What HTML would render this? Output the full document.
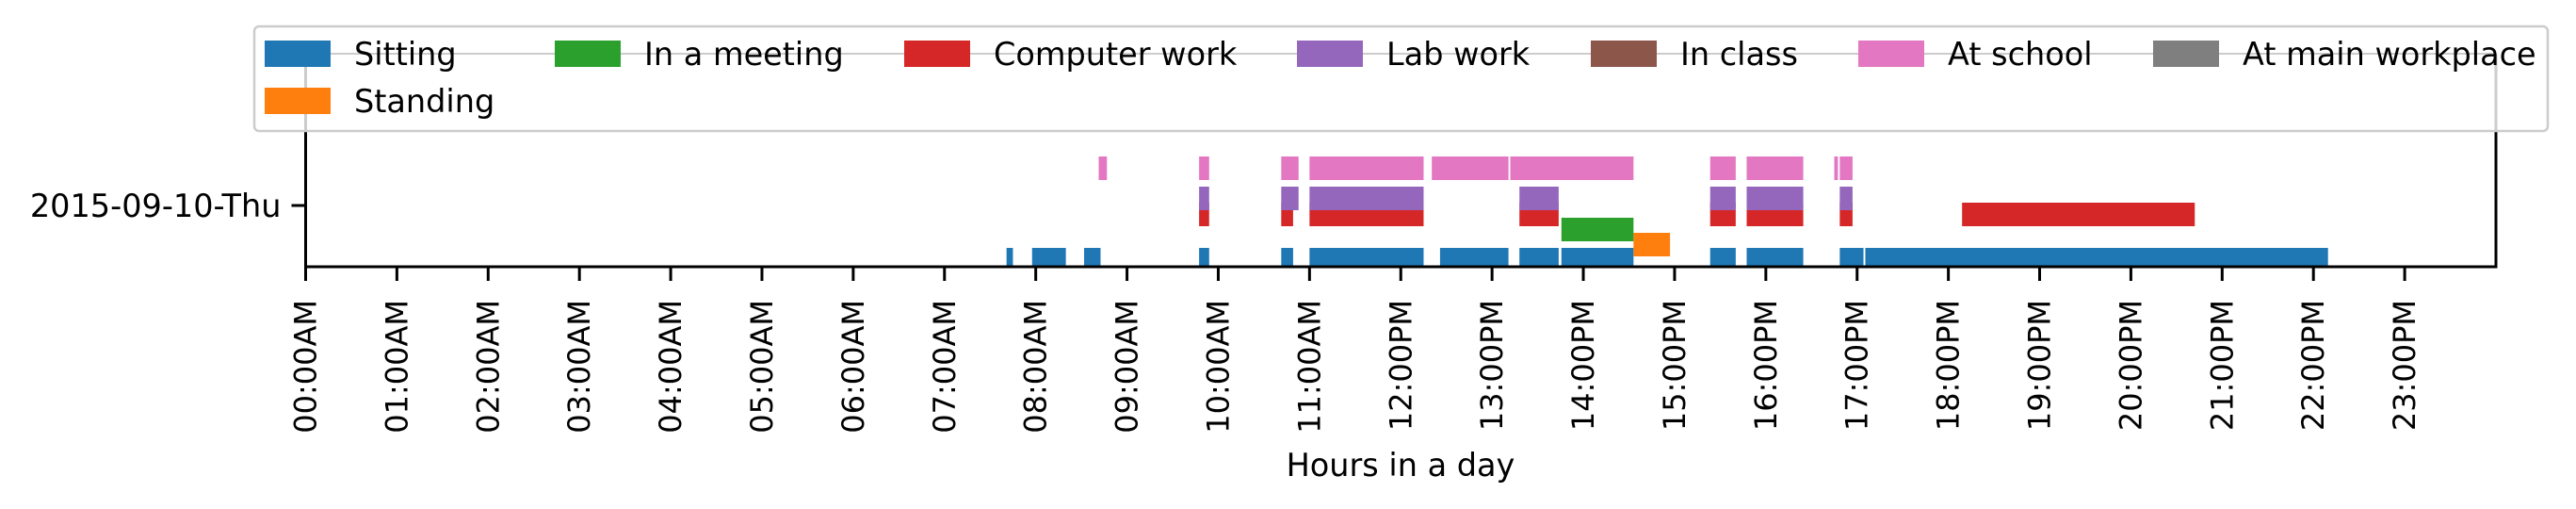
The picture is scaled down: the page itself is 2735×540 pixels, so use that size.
<!DOCTYPE html>
<html><head><meta charset="utf-8"><style>
html,body{margin:0;padding:0;background:#fff;}
svg{display:block;font-family:"DejaVu Sans","Liberation Sans",sans-serif;}
</style></head><body>
<svg id="chart" width="2735" height="540" viewBox="0 0 2735 540" xmlns="http://www.w3.org/2000/svg">
<g id="bars"></g>
<g id="axes"></g>
<g id="legend"></g>
</svg>
<script>
const categories = ["Sitting","Standing","In a meeting","Computer work","Lab work","In class","At school","At main workplace"];
const colors = ["#1f77b4","#ff7f0e","#2ca02c","#d62728","#9467bd","#8c564b","#e377c2","#7f7f7f"];
const rowTops = [263,247,231,215,198,182,166,150];
const sittingIntervals = [[7.68,7.75],[7.96,8.33],[8.53,8.71],[9.79,9.90],[10.69,10.82],[11.0,12.25],[12.43,13.18],[13.30,13.73],[13.76,14.55],[15.39,15.67],[15.79,16.41],[16.81,17.07],[17.09,22.16]];
const standingIntervals = [[14.55,14.95]];
const meetingIntervals = [[13.76,14.55]];
const computerIntervals = [[9.79,9.90],[10.69,10.82],[11.0,12.25],[13.30,13.73],[15.39,15.67],[15.79,16.41],[16.81,16.95],[18.15,20.70]];
const labIntervals = [[9.79,9.90],[10.69,10.88],[11.0,12.25],[13.30,13.73],[15.39,15.67],[15.79,16.41],[16.81,16.95]];
const classIntervals = [];
const schoolIntervals = [[8.69,8.78],[9.79,9.90],[10.69,10.88],[11.0,12.25],[12.34,13.18],[13.20,14.55],[15.39,15.67],[15.79,16.41],[16.75,16.79],[16.81,16.95]];
const workplaceIntervals = [];
const tickLabels = ["00:00AM","01:00AM","02:00AM","03:00AM","04:00AM","05:00AM","06:00AM","07:00AM","08:00AM","09:00AM","10:00AM","11:00AM","12:00PM","13:00PM","14:00PM","15:00PM","16:00PM","17:00PM","18:00PM","19:00PM","20:00PM","21:00PM","22:00PM","23:00PM"];
const dayLabel = "2015-09-10-Thu";

const NS="http://www.w3.org/2000/svg";
const X0=324.5, X1=2650, Y0=57, Y1=283;
const xScale = h => X0 + h*(X1-X0)/24;
function mk(tag, attrs, parent){const e=document.createElementNS(NS,tag);for(const k in attrs)e.setAttribute(k,attrs[k]);parent.appendChild(e);return e;}
const bars=document.getElementById('bars');
const all=[sittingIntervals,standingIntervals,meetingIntervals,computerIntervals,labIntervals,classIntervals,schoolIntervals,workplaceIntervals];
const clipDef=mk('clipPath',{id:'pc'},mk('defs',{},bars));
mk('rect',{x:X0,y:Y0,width:X1-X0,height:Y1-Y0},clipDef);
const bg=mk('g',{'clip-path':'url(#pc)'},bars);
all.forEach((arr,ci)=>{
  arr.forEach(iv=>{
    const r=mk('rect',{x:xScale(iv[0]),y:rowTops[ci],width:xScale(iv[1])-xScale(iv[0]),height:25,fill:colors[ci]},bg);
    
    
  });
});
const ax=document.getElementById('axes');
const sp=mk('path',{d:`M${X0} ${Y0} V${Y1} H${X1} V${Y0}`,fill:'none',stroke:'#000','stroke-width':3},ax);


mk('line',{x1:X0,y1:Y0,x2:X1,y2:Y0,stroke:'#000','stroke-width':2},ax);
tickLabels.forEach((lab,i)=>{
  const x=xScale(i);
  const t=mk('line',{x1:x,y1:Y1,x2:x,y2:Y1+15,stroke:'#000','stroke-width':3},ax);
  
  
  const tx=mk('text',{x:0,y:0,transform:`translate(${x+11},${318}) rotate(-90)`,'text-anchor':'end','font-size':32,fill:'#000'},ax);
  tx.textContent=lab;
  
  
});
const yt=mk('line',{x1:X0-15,y1:218,x2:X0,y2:218,stroke:'#000','stroke-width':3},ax);


const yl=mk('text',{x:X0-26,y:230,'text-anchor':'end','font-size':33.5,fill:'#000'},ax);
yl.textContent=dayLabel;


const xt=mk('text',{x:1487,y:505,'text-anchor':'middle','font-size':33.5,fill:'#000'},ax);
xt.textContent="Hours in a day";



const lg=document.getElementById('legend');
const box=mk('rect',{x:270,y:28,width:2435,height:111,rx:5,fill:'#fff','fill-opacity':0.8,stroke:'#ccc','stroke-width':2.5},lg);


const colX=[281,589,960,1377,1689,1973,2286];
categories.forEach((c,i)=>{
  const row=i<7?0:1, col=i<7?i:i-7;
  const px=colX[col], py=row?93:43;
  const ci=i<7?[0,2,3,4,5,6,7][i]:1;
  const g=mk('g',{},lg);
  
  
  mk('rect',{x:px,y:py,width:70,height:28,fill:colors[ci]},g);
  const t=mk('text',{x:px+95,y:py+26,'font-size':33.5,fill:'#000'},g);
  t.textContent=categories[ci];
});
</script>
</body></html>
